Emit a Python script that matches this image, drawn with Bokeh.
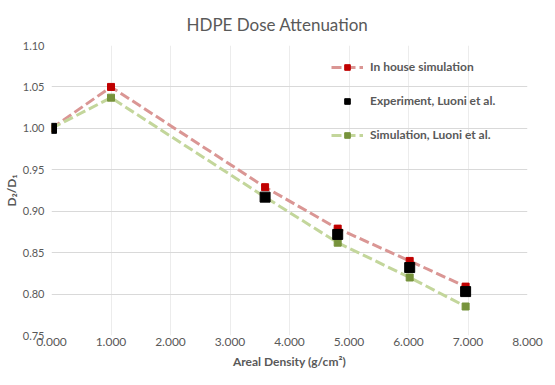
from bokeh.plotting import figure
from bokeh.models import NumeralTickFormatter, Legend, LegendItem, FixedTicker, Range1d
from bokeh.embed import file_html
from bokeh.resources import INLINE

# Data
x_sim = [0.0, 1.0, 3.59, 4.81, 6.02, 6.96]
inhouse = [1.000, 1.050, 0.929, 0.879, 0.840, 0.809]
luoni_sim = [1.000, 1.037, 0.917, 0.862, 0.820, 0.785]
x_exp = [0.0, 3.59, 4.81, 6.02, 6.96]
experiment = [1.000, 0.917, 0.872, 0.832, 0.803]

x_ticks = [0, 1, 2, 3, 4, 5, 6, 7, 8]
y_ticks = [0.75, 0.80, 0.85, 0.90, 0.95, 1.00, 1.05, 1.10]

FONT = "Lato"
GRAY = "#595959"

p = figure(output_backend="svg", toolbar_location=None,
           x_range=Range1d(0, 8), y_range=Range1d(0.75, 1.10),
           title="HDPE Dose Attenuation")
p.frame_width = 476
p.frame_height = 290
p.min_border_left = 46
p.min_border_right = 17
p.min_border_top = 38
p.min_border_bottom = 0
p.outline_line_color = None
p.background_fill_color = "white"
p.border_fill_color = "white"

p.title.align = "left"
p.title.offset = 135
p.title.standoff = 22
p.title.text_font = FONT
p.title.text_font_style = "normal"
p.title.text_font_size = "17px"
p.title.text_color = GRAY

for ax in (p.xaxis[0], p.yaxis[0]):
    ax.axis_line_color = None
    ax.major_tick_line_color = None
    ax.minor_tick_line_color = None
    ax.major_tick_out = 0
    ax.major_tick_in = 0
    ax.minor_tick_out = 0
    ax.minor_tick_in = 0
    ax.major_label_text_font = FONT
    ax.major_label_text_font_size = "12px"
    ax.major_label_text_color = GRAY
    ax.axis_label_text_font = FONT
    ax.axis_label_text_font_style = "bold"
    ax.axis_label_text_font_size = "12px"
    ax.axis_label_text_color = GRAY

p.yaxis[0].major_label_text_font_size = "11px"
p.xaxis[0].ticker = FixedTicker(ticks=x_ticks)
p.yaxis[0].ticker = FixedTicker(ticks=y_ticks)
p.xaxis[0].formatter = NumeralTickFormatter(format="0.000")
p.yaxis[0].formatter = NumeralTickFormatter(format="0.00")
p.xaxis[0].axis_label = "Areal Density (g/cm²)"
p.yaxis[0].axis_label = "D₂/D₁"
p.xaxis[0].major_label_standoff = 2
p.yaxis[0].major_label_standoff = 7
p.xaxis[0].axis_label_standoff = 5
p.yaxis[0].axis_label_standoff = 1

p.xgrid.grid_line_color = "#ECECEC"
p.ygrid.grid_line_color = "#D9D9D9"
p.xgrid.grid_line_width = 1
p.ygrid.grid_line_width = 1

l1 = p.line(x_sim, inhouse, line_color="#DA9694", line_width=3, line_dash="10 4")
l3 = p.line(x_sim, luoni_sim, line_color="#C3D69B", line_width=3, line_dash="10 4")
s1 = p.scatter(x_sim, inhouse, marker="square", size=7, fill_color="#C00000", line_color="#C00000")
s3 = p.scatter(x_sim, luoni_sim, marker="square", size=7, fill_color="#77933C", line_color="#77933C")
s2 = p.scatter(x_exp, experiment, marker="square", size=10, fill_color="black", line_color="black")

legend = Legend(items=[
    LegendItem(label="In house simulation", renderers=[l1, s1]),
    LegendItem(label="Experiment, Luoni et al.", renderers=[s2]),
    LegendItem(label="Simulation, Luoni et al.", renderers=[l3, s3]),
], location=(280, 193))
legend.background_fill_alpha = 0
legend.border_line_color = None
legend.label_text_font = FONT
legend.label_text_font_style = "bold"
legend.label_text_font_size = "12px"
legend.label_text_color = GRAY
legend.glyph_width = 32
legend.glyph_height = 14
legend.spacing = 19
legend.label_standoff = 7
legend.margin = 0
legend.padding = 6
p.add_layout(legend)

open("out.html", "w").write(file_html(p, INLINE))
